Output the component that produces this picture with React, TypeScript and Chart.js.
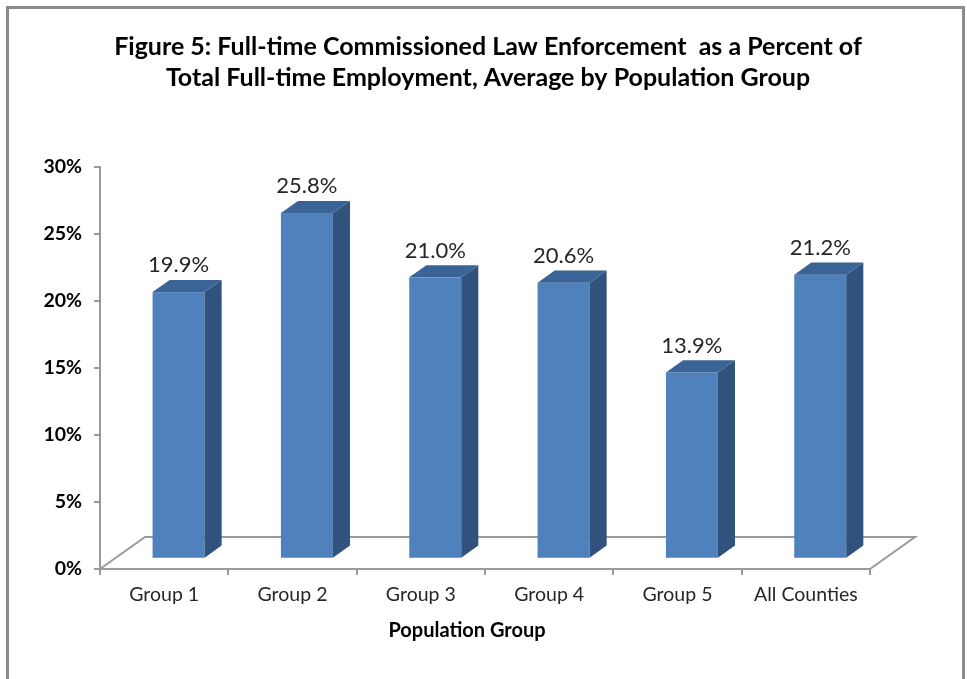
import React, { useEffect, useRef } from "react";
import { Chart, registerables } from "chart.js";

Chart.register(...registerables);

const categories = ["Group 1", "Group 2", "Group 3", "Group 4", "Group 5", "All Counties"];
const values = [19.9, 25.8, 21.0, 20.6, 13.9, 21.2];
const yTicks = [0, 5, 10, 15, 20, 25, 30];
const titleLines = [
  "Figure 5: Full-time Commissioned Law Enforcement  as a Percent of",
  "Total Full-time Employment, Average by Population Group",
];
const xAxisTitle = "Population Group";

const FONT = "Lato, 'Open Sans', sans-serif";
const DEPTH_X = 45;
const DEPTH_Y = -32;
const FRONT = 0.32;
const BACK = 0.7;
const AXIS_COLOR = "#9a9a9a";

const threeDPlugin = {
  id: "threeD",
  beforeDatasetsDraw(chart: any) {
    const { ctx, chartArea } = chart;
    const { left, right, bottom } = chartArea;
    ctx.save();
    ctx.strokeStyle = AXIS_COLOR;
    ctx.lineWidth = 2;
    ctx.beginPath();
    ctx.moveTo(left, bottom);
    ctx.lineTo(left + DEPTH_X, bottom + DEPTH_Y);
    ctx.lineTo(right + DEPTH_X, bottom + DEPTH_Y);
    ctx.lineTo(right, bottom);
    ctx.stroke();
    ctx.restore();
  },
  afterDatasetsDraw(chart: any) {
    const { ctx } = chart;
    const meta = chart.getDatasetMeta(0);
    const fx = DEPTH_X * FRONT;
    const fy = DEPTH_Y * FRONT;
    const sx = DEPTH_X * (BACK - FRONT);
    const sy = DEPTH_Y * (BACK - FRONT);
    ctx.save();
    meta.data.forEach((el: any, i: number) => {
      const p = el.getProps(["x", "y", "base", "width"], true);
      const l = p.x - p.width / 2 + fx;
      const r = p.x + p.width / 2 + fx;
      const t = p.y + fy;
      const b = p.base + fy;
      // front
      ctx.fillStyle = "#4F81BD";
      ctx.fillRect(l, t, r - l, b - t);
      // side
      ctx.fillStyle = "#30527D";
      ctx.beginPath();
      ctx.moveTo(r, b);
      ctx.lineTo(r + sx, b + sy);
      ctx.lineTo(r + sx, t + sy);
      ctx.lineTo(r, t);
      ctx.closePath();
      ctx.fill();
      // top
      ctx.fillStyle = "#3A6396";
      ctx.beginPath();
      ctx.moveTo(l, t);
      ctx.lineTo(l + sx, t + sy);
      ctx.lineTo(r + sx, t + sy);
      ctx.lineTo(r, t);
      ctx.closePath();
      ctx.fill();
      // label
      ctx.fillStyle = "#262626";
      ctx.font = `22px ${FONT}`;
      ctx.textAlign = "center";
      ctx.textBaseline = "middle";
      ctx.fillText(`${values[i].toFixed(1)}%`, p.x + fx, p.y - 37);
    });
    ctx.restore();
  },
  afterDraw(chart: any) {
    const { ctx } = chart;
    ctx.save();
    // frame
    ctx.strokeStyle = "#8c8c8c";
    ctx.lineWidth = 3;
    ctx.strokeRect(7.5, 7.5, 956, 700);
    // title
    ctx.fillStyle = "#000";
    ctx.font = `bold 25px ${FONT}`;
    ctx.textAlign = "center";
    ctx.textBaseline = "middle";
    ctx.fillText(titleLines[0], 488, 47);
    ctx.fillText(titleLines[1], 488, 78);
    // axis title
    ctx.font = `bold 20px ${FONT}`;
    ctx.fillText(xAxisTitle, 467, 631);
    ctx.restore();
  },
};

export default function App() {
  const ref = useRef<HTMLCanvasElement>(null);
  useEffect(() => {
    if (!ref.current) return;
    const chart = new Chart(ref.current, {
      type: "bar",
      data: {
        labels: categories,
        datasets: [
          {
            data: values,
            backgroundColor: "rgba(0,0,0,0)",
            borderWidth: 0,
            barPercentage: 0.405,
            categoryPercentage: 1,
          },
        ],
      },
      options: {
        animation: false,
        responsive: true,
        maintainAspectRatio: false,
        layout: { padding: { top: 167, right: 97, bottom: 0, left: 0 } },
        plugins: {
          legend: { display: false },
          title: { display: false },
          tooltip: { enabled: false },
        },
        scales: {
          x: {
            type: "category",
            offset: true,
            grid: {
              offset: true,
              drawOnChartArea: false,
              drawTicks: true,
              tickLength: 6,
              color: AXIS_COLOR,
              lineWidth: 2,
            },
            border: { display: true, color: AXIS_COLOR, width: 2 },
            ticks: {
              color: "#262626",
              font: { family: FONT, size: 19.5 },
              padding: 8,
              maxRotation: 0,
              autoSkip: false,
            },
            afterFit(scale: any) {
              scale.height = 110;
            },
          },
          y: {
            min: 0,
            max: 30,
            afterBuildTicks(scale: any) {
              scale.ticks = yTicks.map((v) => ({ value: v }));
            },
            grid: {
              drawOnChartArea: false,
              drawTicks: true,
              tickLength: 6,
              color: AXIS_COLOR,
              lineWidth: 2,
            },
            border: { display: true, color: AXIS_COLOR, width: 2 },
            ticks: {
              color: "#000",
              font: { family: FONT, size: 19.5, weight: "bold" },
              padding: 12,
              callback: (v: any) => `${v}%`,
            },
            afterFit(scale: any) {
              scale.width = 100;
            },
          },
        },
      },
      plugins: [threeDPlugin],
    });
    return () => chart.destroy();
  }, []);
  return (
    <div style={{ position: "fixed", left: 0, top: 0, width: 967, height: 679, background: "#fff" }}>
      <canvas ref={ref} />
    </div>
  );
}
